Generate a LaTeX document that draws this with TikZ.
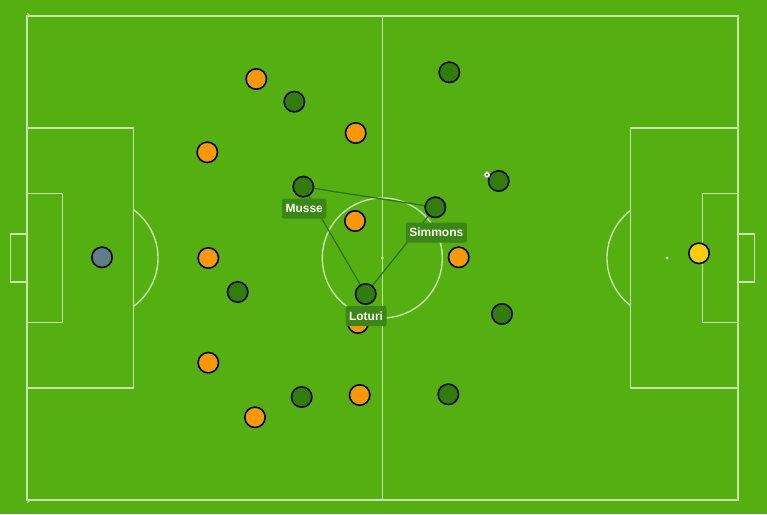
\documentclass[tikz,border=0pt]{standalone}
\usepackage{fontspec}
\newfontfamily\lblfont{Liberation Sans}
\pgfdeclarelayer{field}
\pgfdeclarelayer{links}
\pgfsetlayers{field,links,main}
\definecolor{grass}{RGB}{84,176,16}
\definecolor{pline}{RGB}{200,226,176}
\definecolor{teamA}{RGB}{255,152,0}
\definecolor{teamB}{RGB}{48,125,10}
\definecolor{keepA}{RGB}{96,125,139}
\definecolor{keepB}{RGB}{255,204,0}
\definecolor{tagbg}{RGB}{58,134,22}
\definecolor{linkc}{RGB}{48,110,18}
\tikzset{
  fieldline/.style={draw=pline, line width=1.4pt},
  player/.style={circle, draw=black, line width=1.6pt, minimum size=20.4pt, inner sep=0pt},
  pa/.style={player, fill=teamA},
  pb/.style={player, fill=teamB},
  tag/.style={fill=tagbg, rounded corners=2pt, text=white!95!yellow, font=\lblfont\bfseries\fontsize{12}{12}\selectfont, inner xsep=3.5pt, inner ysep=0pt, minimum height=20pt},
  link/.style={draw=linkc, line width=1.2pt}
}
\begin{document}
\begin{tikzpicture}[x=1pt,y=-1pt]
\useasboundingbox (0,0) rectangle (767,514);
\begin{pgfonlayer}{field}
\fill[grass] (0,0) rectangle (767,514);
% outer lines and halfway
\draw[fieldline] (27,16) rectangle (738,500);
\draw[fieldline] (382.3,16) -- (382.3,500);
\draw[fieldline] (382.3,258) circle[radius=60];
\fill[pline] (382.3,258) circle[radius=1.5];
% left end
\draw[fieldline] (27,128) rectangle (133.3,388);
\draw[fieldline] (27,193.7) rectangle (62.7,322.7);
\draw[fieldline] (10.7,234) rectangle (27,282);
\fill[pline] (98,258) circle[radius=1.5];
\begin{scope}
\clip (133.3,0) rectangle (300,514);
\draw[fieldline] (98,258) circle[radius=60];
\end{scope}
% right end
\draw[fieldline] (630.7,128) rectangle (738,388);
\draw[fieldline] (702.7,193.7) rectangle (738,322.7);
\draw[fieldline] (738,234) rectangle (754.3,282);
\fill[pline] (667,258) circle[radius=1.5];
\begin{scope}
\clip (450,0) rectangle (630.7,514);
\draw[fieldline] (667,258) circle[radius=60];
\end{scope}
% corner marks
\draw[fieldline, line width=0.8pt] (29.5,16) arc[start angle=0, end angle=-90, radius=2.5];
\draw[fieldline, line width=0.8pt] (29.5,500) arc[start angle=0, end angle=90, radius=2.5];
\end{pgfonlayer}

% orange team
\node[pa] (o1) at (256.3,79) {};
\node[pa] (o2) at (355.7,133) {};
\node[pa] (o3) at (207.3,152.3) {};
\node[pa] (o4) at (355,221) {};
\node[pa] (o5) at (208.3,258) {};
\node[pa] (o6) at (458.7,257.3) {};
\node[pa] (o7) at (208.3,362.7) {};
\node[pa] (o8) at (358,323) {};
\node[pa] (o9) at (359.7,395) {};
\node[pa] (o10) at (255,417.3) {};
% green team
\node[pb] (g1) at (449.3,72.3) {};
\node[pb] (g2) at (294.3,101.7) {};
\node[pb] (musse) at (303.3,186.7) {};
\node[pb] (simmons) at (435.3,207.3) {};
\node[pb] (g5) at (498.7,181) {};
\node[pb] (g6) at (237.7,292) {};
\node[pb] (loturi) at (365.7,294) {};
\node[pb] (g8) at (502,314) {};
\node[pb] (g9) at (301.7,397) {};
\node[pb] (g10) at (448.3,394.3) {};
% keepers
\node[player, fill=keepA] (k1) at (102,257.3) {};
\node[player, fill=keepB] (k2) at (699,253.3) {};
% ball
\node[circle, fill=white, draw=gray!70, line width=0.5pt, minimum size=6pt, inner sep=0pt] (ball) at (487,174.7) {};
\fill[black!70] (ball.center) circle[radius=1.1];
\fill[black!50] (ball.north west) circle[radius=0.7];
\fill[black!50] (ball.south east) circle[radius=0.7];

% links
\begin{pgfonlayer}{links}
\draw[link] (musse.center) -- (simmons.center);
\draw[link] (musse.center) -- (loturi.center);
\draw[link] (simmons.center) -- (loturi.center);
\end{pgfonlayer}

% tags
\node[tag] (tmusse) at (304.2,208.7) {Musse};
\node[tag] (tsimmons) at (436.3,232.5) {Simmons};
\node[tag] (tloturi) at (366,316) {Loturi};
\end{tikzpicture}
\end{document}
